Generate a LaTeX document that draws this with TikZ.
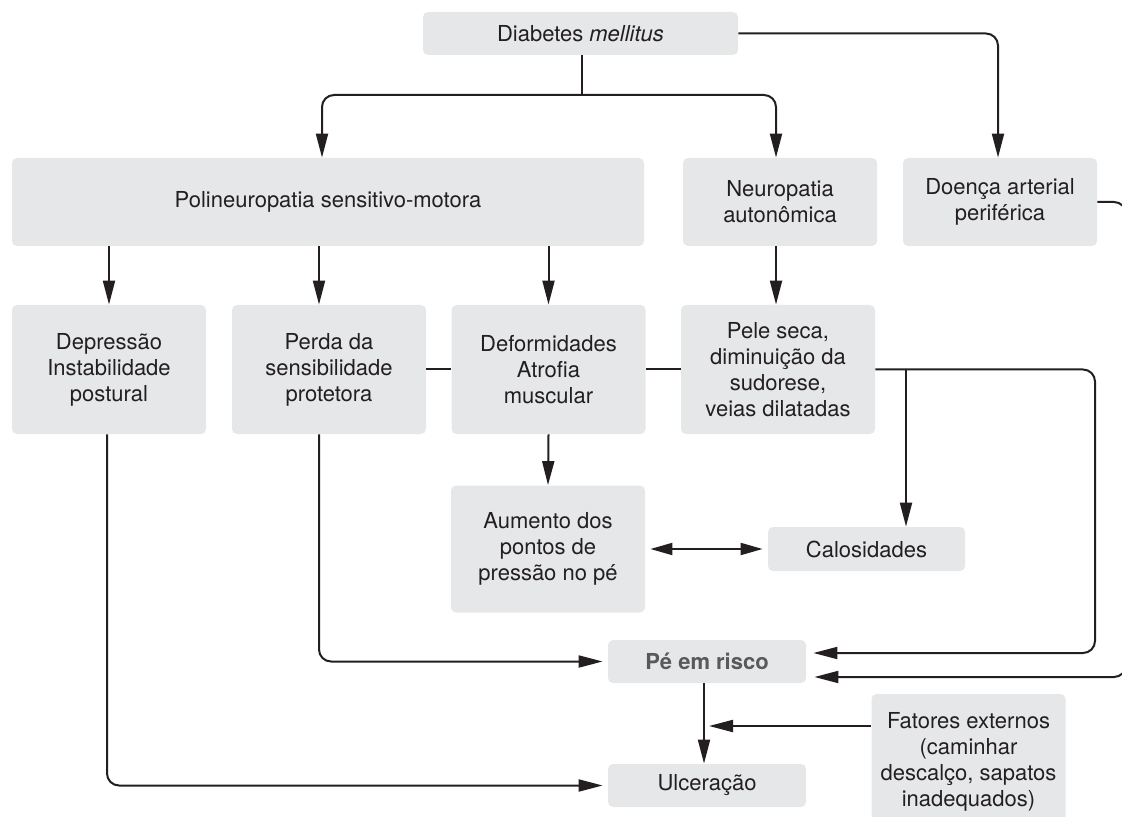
\documentclass[tikz,border=0pt]{standalone}
\usepackage{fontspec}
\setmainfont{TeX Gyre Heros}
\usetikzlibrary{arrows.meta}
\definecolor{boxgray}{HTML}{E6E7E8}
\definecolor{ink}{HTML}{231F20}
\definecolor{riskgray}{HTML}{58595B}

\begin{document}
\begin{tikzpicture}
                                [
                                    x=0.5pt, y=-0.5pt,
                                    every node/.style = {font=\fontsize{11}{13}\selectfont, text=ink},
                                    box/.style = {fill=boxgray, rounded corners=2.5pt, align=center, inner sep=0pt, minimum width=97pt},
                                    tallbox/.style = {box, minimum height=64.5pt},
                                    medbox/.style = {box, minimum height=44pt},
                                    lowbox/.style = {box, minimum height=21.5pt},
                                    link/.style = {draw=ink, line width=1pt, rounded corners=6pt},
                                    arr/.style = {link, -{Triangle[length=12pt, width=6pt]}},
                                    dblarr/.style = {link, {Triangle[length=11pt, width=6pt]}-{Triangle[length=11pt, width=6pt]}},
                                ]

                                \useasboundingbox (0,0) rectangle (1122,817);

                                \node[lowbox, minimum width=157.5pt] (dm) at (580.5,33.5) {Diabetes \textit{mellitus}};

                                \node[medbox, minimum width=316pt] (poli) at (328,202) {Polineuropatia sensitivo-motora};
                                \node[medbox] (neuro) at (780,202) {Neuropatia\\autonômica};
                                \node[medbox] (dap) at (1000,202) {Doença arterial\\periférica};

                                \node[tallbox] (depr) at (109,369.5) {Depressão\\Instabilidade\\postural};
                                \node[tallbox] (perda) at (329,369.5) {Perda da\\sensibilidade\\protetora};
                                \node[tallbox] (deform) at (548.5,369.5) {Deformidades\\Atrofia\\muscular};
                                \node[tallbox] (pele) at (778,369.5) {Pele seca,\\diminuição da\\sudorese,\\veias dilatadas};

                                \node[tallbox, minimum height=63.5pt] (aum) at (548,549) {Aumento dos\\pontos de\\pressão no pé};
                                \node[lowbox, minimum width=98.5pt, minimum height=22pt] (calo) at (866.5,549) {Calosidades};

                                \node[lowbox, minimum width=99pt, text=riskgray, font=\fontsize{11}{13}\selectfont\bfseries] (pe) at (707,661.5) {Pé em risco};
                                \node[lowbox, minimum width=99pt] (ulc) at (707,785.5) {Ulceração};
                                \node[box, minimum height=68pt] (fat) at (968.5,762) {Fatores externos\\(caminhar\\descalço, sapatos\\inadequados)};

                                \coordinate (jn) at (582,95);
                                \coordinate (pcol) at ([xshift=-5pt]perda.north);
                                \coordinate (pbot) at ([xshift=-5pt]perda.south);
                                \coordinate (ncol) at ([xshift=-2pt]neuro.south);
                                \coordinate (tap) at (906,369.5);
                                \coordinate (loopa) at (1095,653);
                                \coordinate (loopb) at (1126,677);
                                \coordinate (pea) at ([yshift=4.25pt]pe.east);
                                \coordinate (peb) at ([yshift=-7.75pt]pe.east);
                                \coordinate (pedown) at ([xshift=-1.5pt]pe.south);
                                \coordinate (fatin) at ([yshift=18pt]fat.west);

                                \draw [link] (dm.south -| jn) -- (jn);
                                \draw [arr] (jn) -| ([xshift=-3pt]poli.north);
                                \draw [arr] (jn) -| ([xshift=-2pt]neuro.north);
                                \draw [arr] (dm.east) -| ([xshift=-1pt]dap.north);

                                \draw [arr] (poli.south -| depr.north) -- (depr.north);
                                \draw [arr] (poli.south -| pcol) -- (pcol);
                                \draw [arr] (poli.south -| deform.north) -- (deform.north);
                                \draw [arr] (ncol) -- (ncol |- pele.north);

                                \draw [link] (perda.east) -- (deform.west);
                                \draw [link] (deform.east) -- (pele.west);
                                \draw [arr, shorten >=3.5pt] (pele.east) -| (loopa) -- (pea);
                                \draw [arr] (tap) -- (tap |- calo.north);

                                \draw [arr] (deform.south) -- (aum.north);
                                \draw [dblarr, shorten <=2.5pt, shorten >=2.5pt] (aum.east) -- (calo.west);

                                \draw [arr, shorten >=2.5pt] (pbot) |- (pe.west);
                                \draw [arr, shorten >=2.5pt] ([xshift=-1pt]depr.south) |- (ulc.west);
                                \draw [arr, shorten >=4pt] (dap.east) -| (loopb) -- (peb);
                                \draw [arr] (pedown) -- (pedown |- ulc.north);
                                \draw [arr, shorten >=2.5pt] (fatin) -- (fatin -| pedown);
                            \end{tikzpicture}
\end{document}
